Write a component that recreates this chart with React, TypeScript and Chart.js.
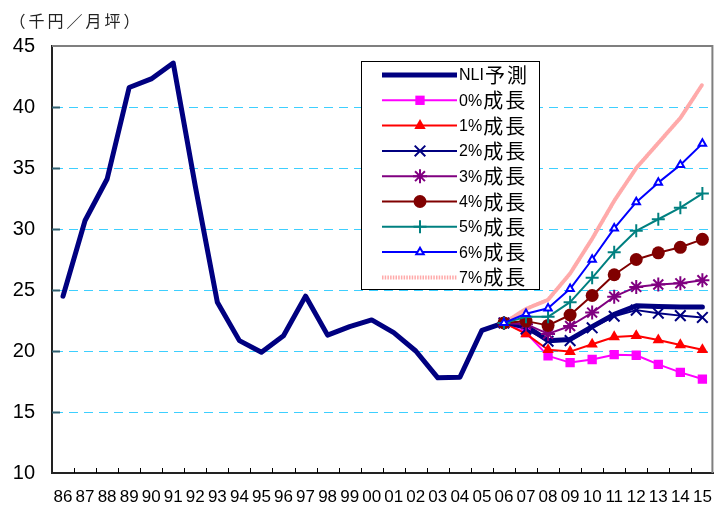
import React, { useEffect, useRef } from 'react';
import { Chart, registerables } from 'chart.js';
import { drawPoint } from 'chart.js/helpers';

Chart.register(...registerables);

// ---------- data ----------
const years = ['86', '87', '88', '89', '90', '91', '92', '93', '94', '95', '96', '97', '98', '99', '00', '01', '02', '03', '04', '05', '06', '07', '08', '09', '10', '11', '12', '13', '14', '15'];
const forecastStartYear = '06';

const nliValues = [24.5, 30.7, 34.1, 41.6, 42.3, 43.6, 33.5, 24.0, 20.85, 19.9, 21.25, 24.5, 21.3, 22.0, 22.55, 21.5, 20.0, 17.8, 17.85, 21.7, 22.3, 22.05, 20.85, 20.95, 22.0, 23.0, 23.7, 23.65, 23.6, 23.6];

// forecast scenarios, 06..15
const growth0 = [22.3, 21.5, 19.6, 19.05, 19.3, 19.7, 19.65, 18.9, 18.25, 17.7];
const growth1 = [22.3, 21.4, 20.1, 19.95, 20.55, 21.15, 21.25, 20.9, 20.5, 20.1];
const growth2 = [22.3, 21.8, 20.8, 20.85, 21.9, 22.85, 23.35, 23.1, 22.9, 22.75];
const growth3 = [22.3, 22.2, 21.4, 22.05, 23.15, 24.45, 25.25, 25.45, 25.55, 25.8];
const growth4 = [22.3, 22.45, 22.1, 22.95, 24.55, 26.25, 27.5, 28.05, 28.5, 29.15];
const growth5 = [22.3, 22.8, 22.8, 24.0, 26.0, 28.1, 29.85, 30.8, 31.75, 32.9];
const growth6 = [22.3, 23.05, 23.5, 25.1, 27.5, 30.05, 32.2, 33.8, 35.25, 37.0];
const growth7 = [22.3, 23.45, 24.2, 26.35, 29.2, 32.3, 35.0, 37.05, 39.1, 41.85];

const seriesLabels = ['NLI予測', '0%成長', '1%成長', '2%成長', '3%成長', '4%成長', '5%成長', '6%成長', '7%成長'];
const yMin = 10;
const yMax = 45;
const yStep = 5;
const unitLabel = '（千円／月坪）';

const FONT = "'Liberation Sans', Arial, 'Noto Sans CJK JP', sans-serif";
const CJK_FONT = "'Noto Sans CJK JP', 'Liberation Sans', sans-serif";

const lead = years.indexOf(forecastStartYear);
const pad = (arr: number[]) => [...Array(lead).fill(null), ...arr];

const styles = [
  { color: '#000080', width: 5, point: false as any, radius: 0, bg: '#000080', bw: 0, order: 50 },
  { color: '#ff00ff', width: 2, point: 'rect', radius: 6.6, bg: '#ff00ff', bw: 0, order: 9 },
  { color: '#ff0000', width: 2, point: 'triangle', radius: 6.6, bg: '#ff0000', bw: 0, order: 8 },
  { color: '#000080', width: 2, point: 'crossRot', radius: 7.5, bg: '#000080', bw: 2, order: 7 },
  { color: '#800080', width: 2, point: 'star', radius: 7, bg: '#800080', bw: 2, order: 6 },
  { color: '#800000', width: 2, point: 'circle', radius: 6.5, bg: '#800000', bw: 0, order: 5 },
  { color: '#008080', width: 2, point: 'cross', radius: 6.5, bg: '#008080', bw: 2, order: 4 },
  { color: '#0000ff', width: 2, point: 'triangle', radius: 4.3, bg: '#ffffff', bw: 2, order: 3 },
  { color: '#ffaaaa', width: 4, point: false as any, radius: 0, bg: '#ffaaaa', bw: 0, order: 100, dash: [1.5, 1.2] },
];

const seriesData = [nliValues, pad(growth0), pad(growth1), pad(growth2), pad(growth3), pad(growth4), pad(growth5), pad(growth6), pad(growth7)];

const isCJK = (ch: string) => /[^\x00-\x7f]/.test(ch);

const overlayPlugin = {
  id: 'overlay',
  beforeDatasetsDraw(chart: any) {
    const { ctx, chartArea, scales } = chart;
    const x = scales.x;
    const y = scales.y;
    ctx.save();
    // dashed grid lines
    ctx.strokeStyle = '#3dcfff';
    ctx.lineWidth = 1;
    ctx.setLineDash([9, 6]);
    for (let v = yMin + yStep; v < yMax; v += yStep) {
      const py = Math.round(y.getPixelForValue(v)) + 0.5;
      ctx.beginPath();
      ctx.moveTo(chartArea.left + 2, py);
      ctx.lineTo(chartArea.right - 2, py);
      ctx.stroke();
    }
    ctx.setLineDash([]);
    // frame top & right
    ctx.strokeStyle = '#7f7f7f';
    ctx.lineWidth = 2;
    ctx.beginPath();
    ctx.moveTo(chartArea.left, chartArea.top);
    ctx.lineTo(chartArea.right - 1, chartArea.top);
    ctx.lineTo(chartArea.right - 1, chartArea.bottom);
    ctx.stroke();
    // inner ticks on y axis
    ctx.strokeStyle = '#2f5f6f';
    ctx.lineWidth = 2;
    for (let v = yMin + yStep; v < yMax; v += yStep) {
      const py = Math.round(y.getPixelForValue(v)) + 0.5;
      ctx.beginPath();
      ctx.moveTo(chartArea.left, py);
      ctx.lineTo(chartArea.left + 8, py);
      ctx.stroke();
    }
    // inner ticks on x axis between categories
    ctx.strokeStyle = '#000';
    ctx.lineWidth = 1;
    for (let i = 0; i < years.length - 1; i++) {
      const px = Math.round((x.getPixelForValue(i) + x.getPixelForValue(i + 1)) / 2) + 0.5;
      ctx.beginPath();
      ctx.moveTo(px, chartArea.bottom);
      ctx.lineTo(px, chartArea.bottom - 5);
      ctx.stroke();
    }
    ctx.restore();
  },
  afterDraw(chart: any) {
    const { ctx } = chart;
    ctx.save();
    // unit label
    ctx.fillStyle = '#222';
    ctx.font = `16px ${CJK_FONT}`;
    ctx.textAlign = 'center';
    ctx.textBaseline = 'middle';
    Array.from(unitLabel).forEach((ch, i) => {
      ctx.fillText(ch, 17.5 + i * 19, 21);
    });

    // legend
    const bx = 361.5, by = 61.5, bw = 178, bh = 228;
    ctx.fillStyle = '#fff';
    ctx.fillRect(bx, by, bw, bh);
    ctx.strokeStyle = '#000';
    ctx.lineWidth = 1;
    ctx.strokeRect(bx, by, bw, bh);
    const rowH = 25.3;
    const x0 = 382, x1 = 457, xm = 420;
    chart.data.datasets.forEach((ds: any, i: number) => {
      const yy = 75 + i * rowH;
      ctx.save();
      ctx.strokeStyle = ds.borderColor;
      ctx.lineWidth = ds.borderWidth;
      ctx.setLineDash(ds.borderDash || []);
      ctx.beginPath();
      ctx.moveTo(x0, yy);
      ctx.lineTo(x1, yy);
      ctx.stroke();
      ctx.setLineDash([]);
      if (ds.pointStyle && ds.pointRadius > 0) {
        ctx.fillStyle = ds.pointBackgroundColor;
        ctx.strokeStyle = ds.pointBorderColor;
        ctx.lineWidth = ds.pointBorderWidth;
        drawPoint(ctx, { pointStyle: ds.pointStyle, radius: ds.pointRadius, rotation: 0, borderWidth: ds.pointBorderWidth } as any, xm, yy);
      }
      ctx.restore();
      // label: latin part in sans, CJK part slightly larger
      ctx.fillStyle = '#000';
      ctx.textAlign = 'left';
      ctx.textBaseline = 'middle';
      let tx = 459;
      Array.from(ds.label as string).forEach((ch) => {
        if (isCJK(ch)) {
          ctx.font = `20px ${CJK_FONT}`;
          ctx.fillText(ch, tx + 1, yy + 0.5);
          tx += 22;
        } else {
          ctx.font = `16px ${FONT}`;
          ctx.fillText(ch, tx, yy + 1);
          tx += ctx.measureText(ch).width;
        }
      });
    });
    ctx.restore();
  },
};

export default function App() {
  const ref = useRef<HTMLCanvasElement>(null);

  useEffect(() => {
    if (!ref.current) return;
    const datasets = seriesData.map((d, i) => {
      const s: any = styles[i];
      return {
        label: seriesLabels[i],
        data: d,
        borderColor: s.color,
        backgroundColor: s.bg,
        borderWidth: s.width,
        borderDash: s.dash || [],
        pointStyle: s.point,
        pointRadius: s.radius,
        pointHoverRadius: s.radius,
        pointBackgroundColor: s.bg,
        pointBorderColor: s.color,
        pointBorderWidth: s.bw,
        tension: 0,
        fill: false,
        order: s.order,
        borderJoinStyle: 'round',
        borderCapStyle: 'round',
      };
    });

    const chart = new Chart(ref.current, {
      type: 'line',
      data: { labels: years, datasets },
      plugins: [overlayPlugin],
      options: {
        responsive: false,
        animation: false,
        devicePixelRatio: 1,
        layout: { padding: { top: 46, right: 0, left: 0, bottom: 0 } },
        plugins: {
          legend: { display: false },
          tooltip: { enabled: false },
          title: { display: false },
        },
        scales: {
          x: {
            type: 'category',
            offset: true,
            grid: { display: false, drawTicks: false },
            border: { display: true, color: '#222', width: 2 },
            ticks: {
              autoSkip: false,
              maxRotation: 0,
              minRotation: 0,
              color: '#000',
              padding: 14,
              font: { family: FONT, size: 17 },
            },
            afterFit: (s: any) => { s.height = 36; },
          },
          y: {
            min: yMin,
            max: yMax,
            ticks: {
              stepSize: yStep,
              color: '#000',
              padding: 17,
              font: { family: FONT, size: 20 },
            },
            grid: { display: false, drawTicks: false },
            border: { display: true, color: '#222', width: 2 },
            afterFit: (s: any) => { s.width = 52; },
          },
        },
      } as any,
    });
    return () => chart.destroy();
  }, []);

  return (
    <div style={{ position: 'fixed', left: 0, top: 0, width: 726, height: 509, background: '#fff' }}>
      <canvas ref={ref} width={726} height={509} style={{ display: 'block', width: 726, height: 509 }} />
    </div>
  );
}
